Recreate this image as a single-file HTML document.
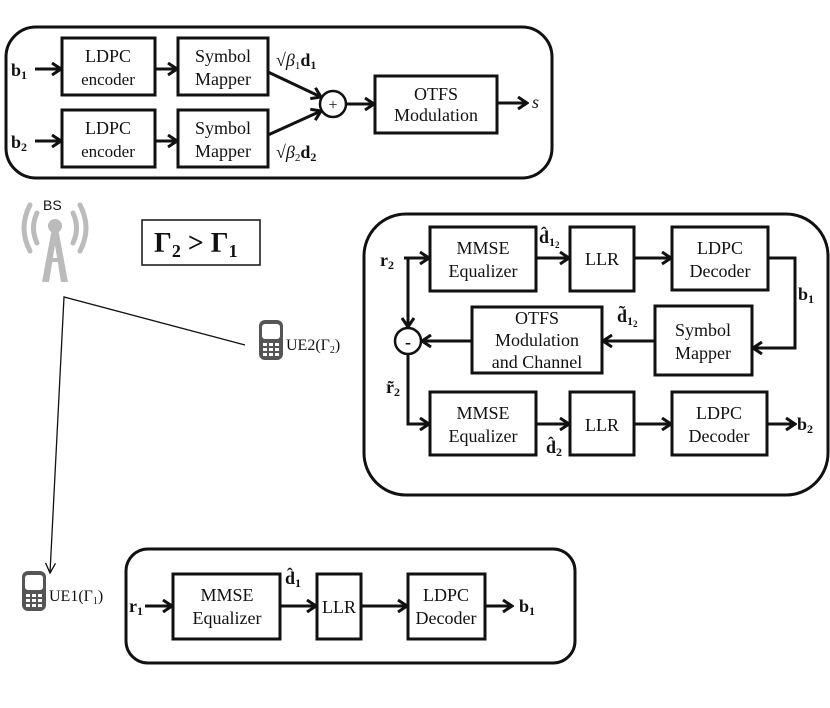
<!DOCTYPE html>
<html><head><meta charset="utf-8"><style>
html,body{margin:0;padding:0;background:#fff;}
svg{display:block;}
text{font-family:"Liberation Serif",serif;fill:#111;}
.b{font-weight:bold;}
</style></head><body>
<svg width="830" height="708" viewBox="0 0 830 708" xmlns="http://www.w3.org/2000/svg">
<defs>
<marker id="a" markerWidth="12" markerHeight="14" refX="10" refY="7" orient="auto" markerUnits="userSpaceOnUse"><path d="M1,1 L10,7 L1,13" fill="none" stroke="#111" stroke-width="3"/></marker>
<marker id="t" markerWidth="12" markerHeight="12" refX="10" refY="6" orient="auto" markerUnits="userSpaceOnUse"><path d="M0,1 L10,6 L0,11" fill="none" stroke="#111" stroke-width="1.3"/></marker>
</defs>
<g fill="none" stroke="#111" stroke-width="3">
<rect x="6" y="27" width="546" height="151" rx="30"/>
<rect x="364" y="214" width="464" height="281" rx="42"/>
<rect x="126" y="549" width="449" height="114" rx="22"/>
<rect x="62" y="38" width="93" height="57"/>
<rect x="62" y="110" width="93" height="57"/>
<rect x="178" y="38" width="90" height="57"/>
<rect x="178" y="110" width="90" height="57"/>
<rect x="375" y="76" width="122" height="57"/>
<circle cx="333" cy="104" r="13" stroke-width="2.5"/>
<rect x="430" y="227" width="106" height="64"/>
<rect x="570" y="227" width="64" height="64"/>
<rect x="672" y="227" width="96" height="63"/>
<rect x="472" y="307" width="130" height="66"/>
<rect x="655" y="306" width="97" height="69"/>
<circle cx="408" cy="341" r="13" stroke-width="2.5"/>
<rect x="430" y="392" width="106" height="63"/>
<rect x="570" y="392" width="64" height="63"/>
<rect x="672" y="392" width="95" height="63"/>
<rect x="173" y="574" width="107" height="65"/>
<rect x="317" y="574" width="44" height="65"/>
<rect x="408" y="574" width="77" height="65"/>
<rect x="142" y="220" width="118" height="45" stroke-width="1.5"/>
</g>
<g stroke="#111" stroke-width="3" fill="none" marker-end="url(#a)">
<line x1="35" y1="69" x2="61" y2="69"/>
<line x1="35" y1="141" x2="61" y2="141"/>
<line x1="155" y1="69" x2="177" y2="69"/>
<line x1="155" y1="141" x2="177" y2="141"/>
<line x1="268" y1="72" x2="321" y2="97"/>
<line x1="268" y1="135" x2="321" y2="111"/>
<line x1="346" y1="104" x2="374" y2="104"/>
<line x1="497" y1="103" x2="527" y2="103"/>
<line x1="404" y1="258" x2="429" y2="258"/>
<line x1="536" y1="258" x2="569" y2="258"/>
<line x1="634" y1="258" x2="671" y2="258"/>
<polyline points="768,258 795,258 795,348 753,348"/>
<line x1="655" y1="341" x2="603" y2="341"/>
<line x1="472" y1="341" x2="422" y2="341"/>
<line x1="408" y1="258" x2="408" y2="327"/>
<polyline points="408,354 408,424 429,424"/>
<line x1="536" y1="424" x2="569" y2="424"/>
<line x1="634" y1="424" x2="671" y2="424"/>
<line x1="767" y1="424" x2="795" y2="424"/>
<line x1="145" y1="606" x2="172" y2="606"/>
<line x1="280" y1="606" x2="316" y2="606"/>
<line x1="361" y1="606" x2="407" y2="606"/>
<line x1="485" y1="606" x2="512" y2="606"/>
</g>
<g stroke="#111" stroke-width="1.3" fill="none" marker-end="url(#t)">
<polyline points="245,345 64,297 50,573"/>
</g>
<g fill="#bbb" stroke="none">
<text x="43" y="210" font-size="14" fill="#111" style="font-family:'Liberation Sans',sans-serif">BS</text>
<circle cx="55" cy="226" r="7"/>
<polygon points="52,228 58,228 68,282 61,282 55,245 49,282 42,282"/>
<rect x="47" y="258" width="16" height="4"/>
</g>
<g fill="none" stroke="#bbb" stroke-width="5" stroke-linecap="round">
<path d="M37,213 Q30,228 37,243"/><path d="M73,213 Q80,228 73,243"/>
<path d="M30,205 Q18,228 30,251"/><path d="M80,205 Q92,228 80,251"/>
</g>
<g>
<rect x="259" y="320" width="24" height="40" rx="6" fill="#555"/>
<rect x="262" y="324" width="18" height="15" rx="3" fill="#fff"/>
<g fill="#fff"><rect x="263" y="343" width="4" height="3"/><rect x="269" y="343" width="4" height="3"/><rect x="275" y="343" width="4" height="3"/><rect x="263" y="348" width="4" height="3"/><rect x="269" y="348" width="4" height="3"/><rect x="275" y="348" width="4" height="3"/><rect x="263" y="353" width="4" height="3"/><rect x="269" y="353" width="4" height="3"/><rect x="275" y="353" width="4" height="3"/></g>
<rect x="22" y="571" width="24" height="40" rx="6" fill="#555"/>
<rect x="25" y="575" width="18" height="15" rx="3" fill="#fff"/>
<g fill="#fff"><rect x="26" y="594" width="4" height="3"/><rect x="32" y="594" width="4" height="3"/><rect x="38" y="594" width="4" height="3"/><rect x="26" y="599" width="4" height="3"/><rect x="32" y="599" width="4" height="3"/><rect x="38" y="599" width="4" height="3"/><rect x="26" y="604" width="4" height="3"/><rect x="32" y="604" width="4" height="3"/><rect x="38" y="604" width="4" height="3"/></g>
</g>
<g font-size="18" text-anchor="middle">
<text x="108" y="62">LDPC</text><text x="108" y="85" font-size="17">encoder</text>
<text x="108" y="134">LDPC</text><text x="108" y="157" font-size="17">encoder</text>
<text x="223" y="62">Symbol</text><text x="223" y="85">Mapper</text>
<text x="223" y="134">Symbol</text><text x="223" y="157">Mapper</text>
<text x="436" y="100">OTFS</text><text x="436" y="121">Modulation</text>
<text x="333" y="110" font-size="16" fill="#555">+</text>
<text x="483" y="254">MMSE</text><text x="483" y="277">Equalizer</text>
<text x="602" y="265">LLR</text>
<text x="720" y="254">LDPC</text><text x="720" y="277">Decoder</text>
<text x="537" y="324">OTFS</text><text x="537" y="346">Modulation</text><text x="537" y="368">and Channel</text>
<text x="703" y="336">Symbol</text><text x="703" y="359">Mapper</text>
<text x="408" y="348" class="b" font-size="18">-</text>
<text x="483" y="419">MMSE</text><text x="483" y="442">Equalizer</text>
<text x="602" y="431">LLR</text>
<text x="719" y="419">LDPC</text><text x="719" y="442">Decoder</text>
<text x="227" y="601">MMSE</text><text x="227" y="624">Equalizer</text>
<text x="339" y="613">LLR</text>
<text x="446" y="601">LDPC</text><text x="446" y="624">Decoder</text>
</g>
<g font-size="18" class="b">
<text x="11" y="76" class="b">b<tspan font-size="12" dy="3">1</tspan></text>
<text x="11" y="148" class="b">b<tspan font-size="12" dy="3">2</tspan></text>
<text x="380" y="266" class="b">r<tspan font-size="12" dy="3">2</tspan></text>
<text x="798" y="300" class="b">b<tspan font-size="12" dy="3">1</tspan></text>
<text x="797" y="430" class="b">b<tspan font-size="12" dy="3">2</tspan></text>
<text x="386" y="393" class="b">r̃<tspan font-size="12" dy="3">2</tspan></text>
<text x="539" y="243" class="b">d̂<tspan font-size="12" dy="3">1</tspan><tspan font-size="9" dy="2">2</tspan></text>
<text x="617" y="322" class="b">d̃<tspan font-size="12" dy="3">1</tspan><tspan font-size="9" dy="2">2</tspan></text>
<text x="546" y="453" class="b">d̂<tspan font-size="12" dy="3">2</tspan></text>
<text x="129" y="612" class="b">r<tspan font-size="12" dy="3">1</tspan></text>
<text x="519" y="612" class="b">b<tspan font-size="12" dy="3">1</tspan></text>
<text x="285" y="584" class="b">d̂<tspan font-size="12" dy="3">1</tspan></text>
</g>
<text x="276" y="66" font-size="18">√<tspan font-style="italic">β</tspan><tspan font-size="11" dy="3">1</tspan><tspan dy="-3" font-weight="bold">d</tspan><tspan font-size="12" dy="3" font-weight="bold">1</tspan></text>
<text x="276" y="158" font-size="18">√<tspan font-style="italic">β</tspan><tspan font-size="11" dy="3">2</tspan><tspan dy="-3" font-weight="bold">d</tspan><tspan font-size="12" dy="3" font-weight="bold">2</tspan></text>
<text x="532" y="108" font-size="18" font-style="italic">s</text>
<text x="154" y="252" font-size="28" font-weight="bold">Γ<tspan font-size="18" dy="5">2</tspan><tspan dy="-5"> &gt; Γ</tspan><tspan font-size="18" dy="5">1</tspan></text>
<text x="286" y="350" font-size="16">UE2(Γ<tspan font-size="10" dy="3">2</tspan><tspan dy="-3">)</tspan></text>
<text x="49" y="601" font-size="16">UE1(Γ<tspan font-size="10" dy="3">1</tspan><tspan dy="-3">)</tspan></text>
</svg>
</body></html>
